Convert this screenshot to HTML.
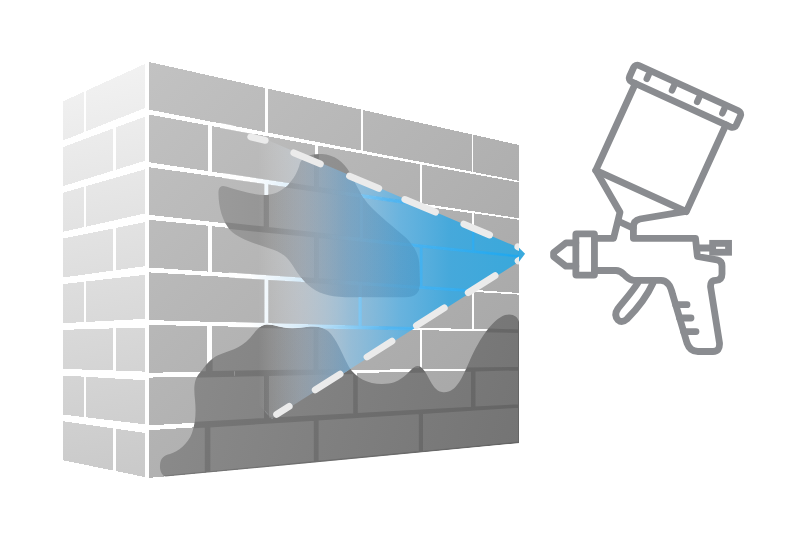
<!DOCTYPE html>
<html><head><meta charset="utf-8"><style>
html,body{margin:0;padding:0;background:#fff;width:800px;height:558px;overflow:hidden}
svg{display:block}
</style></head><body>
<svg width="800" height="558" viewBox="0 0 800 558">
<defs>
<linearGradient id="gl" gradientUnits="userSpaceOnUse" x1="63" y1="64" x2="145" y2="477">
<stop offset="0" stop-color="#f3f3f3"/><stop offset="1" stop-color="#c9c9c9"/></linearGradient>
<linearGradient id="gf" gradientUnits="userSpaceOnUse" x1="149" y1="62" x2="519" y2="443">
<stop offset="0" stop-color="#c2c2c2"/><stop offset="1" stop-color="#a4a4a4"/></linearGradient>
<clipPath id="cf"><polygon points="149.2,62.0 519.0,145.0 519.0,443.2 149.2,478.0"/></clipPath>
<linearGradient id="gs" gradientUnits="userSpaceOnUse" x1="258" y1="0" x2="525" y2="0">
<stop offset="0" stop-color="#ffffff" stop-opacity="0"/>
<stop offset="0.157" stop-color="#d2e6fa" stop-opacity="0.3"/>
<stop offset="0.345" stop-color="#88c4ec" stop-opacity="0.64"/>
<stop offset="0.532" stop-color="#56b4ea" stop-opacity="0.79"/>
<stop offset="0.719" stop-color="#3aa8e0" stop-opacity="0.9"/>
<stop offset="1" stop-color="#36a8dc" stop-opacity="0.98"/></linearGradient>
<linearGradient id="gbu" gradientUnits="userSpaceOnUse" x1="218" y1="0" x2="420" y2="0">
<stop offset="0" stop-color="#9a9a9a"/><stop offset="1" stop-color="#888888"/></linearGradient>
<linearGradient id="gbl" gradientUnits="userSpaceOnUse" x1="162" y1="330" x2="519" y2="443">
<stop offset="0" stop-color="#8c8c8c"/><stop offset="1" stop-color="#747474"/></linearGradient>
<clipPath id="cb"><path d="M218.5,191 C219,186.5 222,185 226,186.5 C238,190 252,195 265,195 C282,195 296,180 300,163 C303,156 312,153.5 322,154 C334,154.5 344,162 350,173 C356,184 362,198 371,207 C380,216 392,226 404,236 C414,245 419,254 419.5,266 L420,284 Q420,297.3 405,297.3 L352,297.3 C333,297.3 322,295 312,288 C302,281 297,272 291,263 C285,254 278,251 268,248 C252,243 238,238 230,230 C222,221 218,205 218.5,191 Z"/><path d="M167,477.5 C162,476 159.5,471 160,465 C160.5,458 164,455.5 170,454 C178,451.5 188,444 192,433 C196,422 196,410 195,400 C194,390 193,380 200,372.7 C205,366 210,359 218,355.2 C228,351 240,349 250,338 C256,331 260,324.6 267,324.6 C276,324.6 286,330 298,328 C312,326 320,325 328,331 C337,339 342,354 349,367 C356,378 368,384 382,384 C392,384 398,381 402,378 C410,373 412,366 418,366 C428,368 430,390 442,392 C456,394 462,378 470,360 C480,338 492,320 505,315 C512,313 518,316 519,322 L519,443.2 Z"/></clipPath>
<mask id="mt" maskUnits="userSpaceOnUse" x="0" y="0" width="800" height="558"><polygon points="220,119.7 519,247.8 525.1,253.7 519,261.8 272,418.7 235,380" fill="#fff"/><g clip-path="url(#ctri)"><path d="M218.5,191 C219,186.5 222,185 226,186.5 C238,190 252,195 265,195 C282,195 296,180 300,163 C303,156 312,153.5 322,154 C334,154.5 344,162 350,173 C356,184 362,198 371,207 C380,216 392,226 404,236 C414,245 419,254 419.5,266 L420,284 Q420,297.3 405,297.3 L352,297.3 C333,297.3 322,295 312,288 C302,281 297,272 291,263 C285,254 278,251 268,248 C252,243 238,238 230,230 C222,221 218,205 218.5,191 Z" fill="url(#gbm)"/><path d="M167,477.5 C162,476 159.5,471 160,465 C160.5,458 164,455.5 170,454 C178,451.5 188,444 192,433 C196,422 196,410 195,400 C194,390 193,380 200,372.7 C205,366 210,359 218,355.2 C228,351 240,349 250,338 C256,331 260,324.6 267,324.6 C276,324.6 286,330 298,328 C312,326 320,325 328,331 C337,339 342,354 349,367 C356,378 368,384 382,384 C392,384 398,381 402,378 C410,373 412,366 418,366 C428,368 430,390 442,392 C456,394 462,378 470,360 C480,338 492,320 505,315 C512,313 518,316 519,322 L519,443.2 Z" fill="url(#gbm)"/></g></mask><clipPath id="ctri"><polygon points="220,119.7 519,247.8 525.1,253.7 519,261.8 272,418.7 235,380"/></clipPath>
<linearGradient id="gm" gradientUnits="userSpaceOnUse" x1="250" y1="0" x2="525" y2="0">
<stop offset="0" stop-color="#ffffff" stop-opacity="0.9"/>
<stop offset="0.2" stop-color="#d0e8f8" stop-opacity="0.9"/>
<stop offset="0.5" stop-color="#50b4f0" stop-opacity="0.9"/>
<stop offset="1" stop-color="#1aa6ee" stop-opacity="1"/></linearGradient>
<linearGradient id="gdm" gradientUnits="userSpaceOnUse" x1="275" y1="0" x2="350" y2="0">
<stop offset="0" stop-color="#fff"/><stop offset="1" stop-color="#000"/></linearGradient>
<mask id="mdm" maskUnits="userSpaceOnUse" x="0" y="0" width="800" height="558"><rect width="800" height="558" fill="#fff"/><polygon points="220,119.7 519,247.8 525.1,253.7 519,261.8 272,418.7 235,380" fill="url(#gdm)"/></mask>
<linearGradient id="gbm" gradientUnits="userSpaceOnUse" x1="320" y1="0" x2="390" y2="0">
<stop offset="0" stop-color="#000"/><stop offset="1" stop-color="#303030"/></linearGradient>
<linearGradient id="gbo" gradientUnits="userSpaceOnUse" x1="270" y1="0" x2="430" y2="0">
<stop offset="0" stop-color="#14508a" stop-opacity="0"/><stop offset="0.2" stop-color="#14508a" stop-opacity="0.05"/><stop offset="0.45" stop-color="#14508a" stop-opacity="0.13"/><stop offset="1" stop-color="#14508a" stop-opacity="0.1"/></linearGradient>
</defs>
<g fill="url(#gl)" shape-rendering="crispEdges">
<polygon points="63.2,101.3 84.2,91.7 84.2,132.1 63.2,140.4"/>
<polygon points="85.9,90.9 144.8,64.0 144.8,108.1 85.9,131.4"/>
<polygon points="63.2,147.0 113.0,128.5 113.0,170.7 63.2,186.1"/>
<polygon points="116.0,127.4 144.8,116.7 144.8,160.8 116.0,169.7"/>
<polygon points="63.2,192.7 84.2,186.7 84.2,227.1 63.2,231.8"/>
<polygon points="85.9,186.2 144.8,169.4 144.8,213.5 85.9,226.7"/>
<polygon points="63.2,238.4 113.0,228.5 113.0,270.6 63.2,277.5"/>
<polygon points="116.0,227.9 144.8,222.1 144.8,266.2 116.0,270.2"/>
<polygon points="63.2,284.1 84.2,281.7 84.2,322.1 63.2,323.2"/>
<polygon points="85.9,281.5 144.8,274.8 144.8,318.9 85.9,322.0"/>
<polygon points="63.2,329.8 113.0,328.4 113.0,370.5 63.2,368.9"/>
<polygon points="116.0,328.3 144.8,327.5 144.8,371.6 116.0,370.6"/>
<polygon points="63.2,375.5 84.2,376.7 84.2,417.1 63.2,414.6"/>
<polygon points="85.9,376.8 144.8,380.2 144.8,424.3 85.9,417.3"/>
<polygon points="63.2,421.2 113.0,428.3 113.0,470.5 63.2,460.3"/>
<polygon points="116.0,428.8 144.8,432.9 144.8,477.0 116.0,471.1"/>
</g>
<g fill="url(#gf)" shape-rendering="crispEdges">
<polygon points="149.2,62.0 265.0,88.0 265.0,132.0 149.2,109.7"/>
<polygon points="268.3,88.7 360.7,109.5 360.7,150.4 268.3,132.6"/>
<polygon points="363.0,110.0 471.7,134.4 471.7,171.7 363.0,150.8"/>
<polygon points="473.3,134.7 519.0,145.0 519.0,180.8 473.3,172.0"/>
<polygon points="149.2,114.6 208.3,125.4 208.3,171.2 149.2,162.3"/>
<polygon points="212.0,126.1 315.0,145.0 315.0,187.4 212.0,171.8"/>
<polygon points="317.8,145.5 420.0,164.2 420.0,203.2 317.8,187.8"/>
<polygon points="422.2,164.7 519.0,182.4 519.0,218.2 422.2,203.6"/>
<polygon points="149.2,167.2 264.7,183.6 264.7,227.6 149.2,214.9"/>
<polygon points="268.0,184.1 360.0,197.2 360.0,238.1 268.0,228.0"/>
<polygon points="362.5,197.5 472.3,213.2 472.3,250.5 362.5,238.4"/>
<polygon points="474.0,213.4 519.0,219.8 519.0,255.6 474.0,250.6"/>
<polygon points="149.2,219.8 208.0,225.7 208.0,271.6 149.2,267.5"/>
<polygon points="212.0,226.2 315.0,236.6 315.0,278.9 212.0,271.8"/>
<polygon points="317.8,236.9 420.0,247.2 420.0,286.2 317.8,279.1"/>
<polygon points="422.2,247.4 519.0,257.2 519.0,293.0 422.2,286.3"/>
<polygon points="149.2,272.4 264.8,279.3 264.8,323.3 149.2,320.1"/>
<polygon points="268.0,279.5 358.8,285.0 358.8,325.9 268.0,323.4"/>
<polygon points="361.4,285.1 472.0,291.8 472.0,329.1 361.4,326.0"/>
<polygon points="474.0,291.9 519.0,294.6 519.0,330.4 474.0,329.1"/>
<polygon points="149.2,325.0 206.8,326.1 206.8,371.9 149.2,372.7"/>
<polygon points="211.6,326.2 314.6,328.1 314.6,370.5 211.6,371.9"/>
<polygon points="317.4,328.2 420.0,330.1 420.0,369.1 317.4,370.5"/>
<polygon points="422.2,330.2 519.0,332.0 519.0,367.8 422.2,369.1"/>
<polygon points="149.2,377.6 265.0,375.0 265.0,419.0 149.2,425.3"/>
<polygon points="268.0,375.0 354.2,373.1 354.2,414.2 268.0,418.8"/>
<polygon points="356.8,373.0 472.0,370.4 472.0,407.8 356.8,414.0"/>
<polygon points="474.5,370.4 519.0,369.4 519.0,405.2 474.5,407.6"/>
<polygon points="149.2,430.2 205.8,426.6 205.8,472.5 149.2,477.9"/>
<polygon points="209.4,426.4 314.8,419.7 314.8,462.1 209.4,472.2"/>
<polygon points="317.6,419.5 419.8,413.1 419.8,452.1 317.6,461.8"/>
<polygon points="422.0,412.9 519.0,406.8 519.0,442.6 422.0,451.9"/>
</g>
<g clip-path="url(#cf)">
<path d="M218.5,191 C219,186.5 222,185 226,186.5 C238,190 252,195 265,195 C282,195 296,180 300,163 C303,156 312,153.5 322,154 C334,154.5 344,162 350,173 C356,184 362,198 371,207 C380,216 392,226 404,236 C414,245 419,254 419.5,266 L420,284 Q420,297.3 405,297.3 L352,297.3 C333,297.3 322,295 312,288 C302,281 297,272 291,263 C285,254 278,251 268,248 C252,243 238,238 230,230 C222,221 218,205 218.5,191 Z" fill="url(#gbu)"/>
<path d="M167,477.5 C162,476 159.5,471 160,465 C160.5,458 164,455.5 170,454 C178,451.5 188,444 192,433 C196,422 196,410 195,400 C194,390 193,380 200,372.7 C205,366 210,359 218,355.2 C228,351 240,349 250,338 C256,331 260,324.6 267,324.6 C276,324.6 286,330 298,328 C312,326 320,325 328,331 C337,339 342,354 349,367 C356,378 368,384 382,384 C392,384 398,381 402,378 C410,373 412,366 418,366 C428,368 430,390 442,392 C456,394 462,378 470,360 C480,338 492,320 505,315 C512,313 518,316 519,322 L519,443.2 Z" fill="url(#gbl)"/>
<g clip-path="url(#cb)">
<g opacity="0.13" mask="url(#mdm)"><path d="M149.2,62.0L519.0,145.0L519.0,443.2L149.2,478.0ZM149.2,62.0L265.0,88.0L265.0,132.0L149.2,109.7ZM268.3,88.7L360.7,109.5L360.7,150.4L268.3,132.6ZM363.0,110.0L471.7,134.4L471.7,171.7L363.0,150.8ZM473.3,134.7L519.0,145.0L519.0,180.8L473.3,172.0ZM149.2,114.6L208.3,125.4L208.3,171.2L149.2,162.3ZM212.0,126.1L315.0,145.0L315.0,187.4L212.0,171.8ZM317.8,145.5L420.0,164.2L420.0,203.2L317.8,187.8ZM422.2,164.7L519.0,182.4L519.0,218.2L422.2,203.6ZM149.2,167.2L264.7,183.6L264.7,227.6L149.2,214.9ZM268.0,184.1L360.0,197.2L360.0,238.1L268.0,228.0ZM362.5,197.5L472.3,213.2L472.3,250.5L362.5,238.4ZM474.0,213.4L519.0,219.8L519.0,255.6L474.0,250.6ZM149.2,219.8L208.0,225.7L208.0,271.6L149.2,267.5ZM212.0,226.2L315.0,236.6L315.0,278.9L212.0,271.8ZM317.8,236.9L420.0,247.2L420.0,286.2L317.8,279.1ZM422.2,247.4L519.0,257.2L519.0,293.0L422.2,286.3ZM149.2,272.4L264.8,279.3L264.8,323.3L149.2,320.1ZM268.0,279.5L358.8,285.0L358.8,325.9L268.0,323.4ZM361.4,285.1L472.0,291.8L472.0,329.1L361.4,326.0ZM474.0,291.9L519.0,294.6L519.0,330.4L474.0,329.1ZM149.2,325.0L206.8,326.1L206.8,371.9L149.2,372.7ZM211.6,326.2L314.6,328.1L314.6,370.5L211.6,371.9ZM317.4,328.2L420.0,330.1L420.0,369.1L317.4,370.5ZM422.2,330.2L519.0,332.0L519.0,367.8L422.2,369.1ZM149.2,377.6L265.0,375.0L265.0,419.0L149.2,425.3ZM268.0,375.0L354.2,373.1L354.2,414.2L268.0,418.8ZM356.8,373.0L472.0,370.4L472.0,407.8L356.8,414.0ZM474.5,370.4L519.0,369.4L519.0,405.2L474.5,407.6ZM149.2,430.2L205.8,426.6L205.8,472.5L149.2,477.9ZM209.4,426.4L314.8,419.7L314.8,462.1L209.4,472.2ZM317.6,419.5L419.8,413.1L419.8,452.1L317.6,461.8ZM422.0,412.9L519.0,406.8L519.0,442.6L422.0,451.9Z" fill="#000" fill-rule="evenodd"/><path d="M149.2,62.0L265.0,88.0L265.0,132.0L149.2,109.7ZM268.3,88.7L360.7,109.5L360.7,150.4L268.3,132.6ZM363.0,110.0L471.7,134.4L471.7,171.7L363.0,150.8ZM473.3,134.7L519.0,145.0L519.0,180.8L473.3,172.0ZM149.2,114.6L208.3,125.4L208.3,171.2L149.2,162.3ZM212.0,126.1L315.0,145.0L315.0,187.4L212.0,171.8ZM317.8,145.5L420.0,164.2L420.0,203.2L317.8,187.8ZM422.2,164.7L519.0,182.4L519.0,218.2L422.2,203.6ZM149.2,167.2L264.7,183.6L264.7,227.6L149.2,214.9ZM268.0,184.1L360.0,197.2L360.0,238.1L268.0,228.0ZM362.5,197.5L472.3,213.2L472.3,250.5L362.5,238.4ZM474.0,213.4L519.0,219.8L519.0,255.6L474.0,250.6ZM149.2,219.8L208.0,225.7L208.0,271.6L149.2,267.5ZM212.0,226.2L315.0,236.6L315.0,278.9L212.0,271.8ZM317.8,236.9L420.0,247.2L420.0,286.2L317.8,279.1ZM422.2,247.4L519.0,257.2L519.0,293.0L422.2,286.3ZM149.2,272.4L264.8,279.3L264.8,323.3L149.2,320.1ZM268.0,279.5L358.8,285.0L358.8,325.9L268.0,323.4ZM361.4,285.1L472.0,291.8L472.0,329.1L361.4,326.0ZM474.0,291.9L519.0,294.6L519.0,330.4L474.0,329.1ZM149.2,325.0L206.8,326.1L206.8,371.9L149.2,372.7ZM211.6,326.2L314.6,328.1L314.6,370.5L211.6,371.9ZM317.4,328.2L420.0,330.1L420.0,369.1L317.4,370.5ZM422.2,330.2L519.0,332.0L519.0,367.8L422.2,369.1ZM149.2,377.6L265.0,375.0L265.0,419.0L149.2,425.3ZM268.0,375.0L354.2,373.1L354.2,414.2L268.0,418.8ZM356.8,373.0L472.0,370.4L472.0,407.8L356.8,414.0ZM474.5,370.4L519.0,369.4L519.0,405.2L474.5,407.6ZM149.2,430.2L205.8,426.6L205.8,472.5L149.2,477.9ZM209.4,426.4L314.8,419.7L314.8,462.1L209.4,472.2ZM317.6,419.5L419.8,413.1L419.8,452.1L317.6,461.8ZM422.0,412.9L519.0,406.8L519.0,442.6L422.0,451.9Z" fill="none" stroke="#000" stroke-width="2"/></g>
</g>
</g>
<polygon points="220,119.7 519,247.8 525.1,253.7 519,261.8 272,418.7 235,380" fill="url(#gs)"/>
<g clip-path="url(#ctri)"><path d="M218.5,191 C219,186.5 222,185 226,186.5 C238,190 252,195 265,195 C282,195 296,180 300,163 C303,156 312,153.5 322,154 C334,154.5 344,162 350,173 C356,184 362,198 371,207 C380,216 392,226 404,236 C414,245 419,254 419.5,266 L420,284 Q420,297.3 405,297.3 L352,297.3 C333,297.3 322,295 312,288 C302,281 297,272 291,263 C285,254 278,251 268,248 C252,243 238,238 230,230 C222,221 218,205 218.5,191 Z" fill="url(#gbo)"/><path d="M167,477.5 C162,476 159.5,471 160,465 C160.5,458 164,455.5 170,454 C178,451.5 188,444 192,433 C196,422 196,410 195,400 C194,390 193,380 200,372.7 C205,366 210,359 218,355.2 C228,351 240,349 250,338 C256,331 260,324.6 267,324.6 C276,324.6 286,330 298,328 C312,326 320,325 328,331 C337,339 342,354 349,367 C356,378 368,384 382,384 C392,384 398,381 402,378 C410,373 412,366 418,366 C428,368 430,390 442,392 C456,394 462,378 470,360 C480,338 492,320 505,315 C512,313 518,316 519,322 L519,443.2 Z" fill="url(#gbo)"/></g>
<g mask="url(#mt)">
<path d="M149.2,62.0L519.0,145.0L519.0,443.2L149.2,478.0ZM149.2,62.0L265.0,88.0L265.0,132.0L149.2,109.7ZM268.3,88.7L360.7,109.5L360.7,150.4L268.3,132.6ZM363.0,110.0L471.7,134.4L471.7,171.7L363.0,150.8ZM473.3,134.7L519.0,145.0L519.0,180.8L473.3,172.0ZM149.2,114.6L208.3,125.4L208.3,171.2L149.2,162.3ZM212.0,126.1L315.0,145.0L315.0,187.4L212.0,171.8ZM317.8,145.5L420.0,164.2L420.0,203.2L317.8,187.8ZM422.2,164.7L519.0,182.4L519.0,218.2L422.2,203.6ZM149.2,167.2L264.7,183.6L264.7,227.6L149.2,214.9ZM268.0,184.1L360.0,197.2L360.0,238.1L268.0,228.0ZM362.5,197.5L472.3,213.2L472.3,250.5L362.5,238.4ZM474.0,213.4L519.0,219.8L519.0,255.6L474.0,250.6ZM149.2,219.8L208.0,225.7L208.0,271.6L149.2,267.5ZM212.0,226.2L315.0,236.6L315.0,278.9L212.0,271.8ZM317.8,236.9L420.0,247.2L420.0,286.2L317.8,279.1ZM422.2,247.4L519.0,257.2L519.0,293.0L422.2,286.3ZM149.2,272.4L264.8,279.3L264.8,323.3L149.2,320.1ZM268.0,279.5L358.8,285.0L358.8,325.9L268.0,323.4ZM361.4,285.1L472.0,291.8L472.0,329.1L361.4,326.0ZM474.0,291.9L519.0,294.6L519.0,330.4L474.0,329.1ZM149.2,325.0L206.8,326.1L206.8,371.9L149.2,372.7ZM211.6,326.2L314.6,328.1L314.6,370.5L211.6,371.9ZM317.4,328.2L420.0,330.1L420.0,369.1L317.4,370.5ZM422.2,330.2L519.0,332.0L519.0,367.8L422.2,369.1ZM149.2,377.6L265.0,375.0L265.0,419.0L149.2,425.3ZM268.0,375.0L354.2,373.1L354.2,414.2L268.0,418.8ZM356.8,373.0L472.0,370.4L472.0,407.8L356.8,414.0ZM474.5,370.4L519.0,369.4L519.0,405.2L474.5,407.6ZM149.2,430.2L205.8,426.6L205.8,472.5L149.2,477.9ZM209.4,426.4L314.8,419.7L314.8,462.1L209.4,472.2ZM317.6,419.5L419.8,413.1L419.8,452.1L317.6,461.8ZM422.0,412.9L519.0,406.8L519.0,442.6L422.0,451.9Z" fill="url(#gm)" fill-rule="evenodd"/><path d="M149.2,62.0L265.0,88.0L265.0,132.0L149.2,109.7ZM268.3,88.7L360.7,109.5L360.7,150.4L268.3,132.6ZM363.0,110.0L471.7,134.4L471.7,171.7L363.0,150.8ZM473.3,134.7L519.0,145.0L519.0,180.8L473.3,172.0ZM149.2,114.6L208.3,125.4L208.3,171.2L149.2,162.3ZM212.0,126.1L315.0,145.0L315.0,187.4L212.0,171.8ZM317.8,145.5L420.0,164.2L420.0,203.2L317.8,187.8ZM422.2,164.7L519.0,182.4L519.0,218.2L422.2,203.6ZM149.2,167.2L264.7,183.6L264.7,227.6L149.2,214.9ZM268.0,184.1L360.0,197.2L360.0,238.1L268.0,228.0ZM362.5,197.5L472.3,213.2L472.3,250.5L362.5,238.4ZM474.0,213.4L519.0,219.8L519.0,255.6L474.0,250.6ZM149.2,219.8L208.0,225.7L208.0,271.6L149.2,267.5ZM212.0,226.2L315.0,236.6L315.0,278.9L212.0,271.8ZM317.8,236.9L420.0,247.2L420.0,286.2L317.8,279.1ZM422.2,247.4L519.0,257.2L519.0,293.0L422.2,286.3ZM149.2,272.4L264.8,279.3L264.8,323.3L149.2,320.1ZM268.0,279.5L358.8,285.0L358.8,325.9L268.0,323.4ZM361.4,285.1L472.0,291.8L472.0,329.1L361.4,326.0ZM474.0,291.9L519.0,294.6L519.0,330.4L474.0,329.1ZM149.2,325.0L206.8,326.1L206.8,371.9L149.2,372.7ZM211.6,326.2L314.6,328.1L314.6,370.5L211.6,371.9ZM317.4,328.2L420.0,330.1L420.0,369.1L317.4,370.5ZM422.2,330.2L519.0,332.0L519.0,367.8L422.2,369.1ZM149.2,377.6L265.0,375.0L265.0,419.0L149.2,425.3ZM268.0,375.0L354.2,373.1L354.2,414.2L268.0,418.8ZM356.8,373.0L472.0,370.4L472.0,407.8L356.8,414.0ZM474.5,370.4L519.0,369.4L519.0,405.2L474.5,407.6ZM149.2,430.2L205.8,426.6L205.8,472.5L149.2,477.9ZM209.4,426.4L314.8,419.7L314.8,462.1L209.4,472.2ZM317.6,419.5L419.8,413.1L419.8,452.1L317.6,461.8ZM422.0,412.9L519.0,406.8L519.0,442.6L422.0,451.9Z" fill="none" stroke="url(#gm)" stroke-width="0.8" stroke-opacity="0.8"/>
</g>
<g clip-path="url(#cf)">
<g stroke="#ebebeb" stroke-width="6.8" stroke-linecap="round" fill="none">
<path d="M250.7,136.9L265.2,140.4M293.8,152.8L320.4,163.9M349.5,176.1L378.8,188.4M404.8,199.4L435.5,212.2M463.8,224.1L489.6,235.0M517.8,246.8L526.2,250.3M276.6,414.4L289.2,406.4M315.2,389.9L340.1,374.1M367.0,357.0L392.0,341.1M416.4,325.6L444.3,307.9M468.2,292.7L495.1,275.6M518.1,261.0L526.4,255.8"/>
</g>
</g>
<g stroke="#8a8c90" stroke-width="6.8" fill="none" stroke-linejoin="round" stroke-linecap="round">
<g transform="translate(635.2,59.8) rotate(24.5)">
<rect x="1.8" y="3.6" width="117.2" height="17.9" rx="4"/>
<path d="M18.4,7.5V12.5M46.1,7.5V12.5M73.8,7.5V12.5M101.5,7.5V12.5" stroke-width="6.5"/>
<path d="M10,21.5V117H109.5V21.5"/>
</g>
<path d="M595.8,170.4L620,212.3L613.6,238.3H594.45"/>
<path d="M620.1,222L633.2,228.1"/>
<path d="M685.8,211.3L640,219Q633.4,220.5 633.4,227V238.3H695.5L697.4,256.5L717,259.8Q722,261 722,266V274Q722,280 716,280.3L713.5,280.6Q710.3,282 710.6,287L719.5,343Q720,351.5 713,351.5H698Q690,351.5 687,343L672.5,294Q669.5,280.5 661,280.3H634C629,280.3 627,277 624,274.5C621.5,272 619.5,270.5 616,270.5H594.45"/>
<rect x="575.85" y="233.8" width="18.6" height="41.3" rx="0.5"/>
<path d="M575.85,242.8H566L553.6,252.6V256.6L566,266.2H575.85"/>
<path d="M637.8,283C632,292 624,301 618,308.5Q613.5,315 618,320Q622,323.5 627,319C638,308 648,294 653,283"/>
<path d="M675.7,304.7H687M679.6,318H691M683.6,331.6H696"/>
<path d="M697,248H712.65"/>
<rect x="712.65" y="243.35" width="15.9" height="8.9" stroke-linejoin="miter"/>
</g>
</svg>
</body></html>
